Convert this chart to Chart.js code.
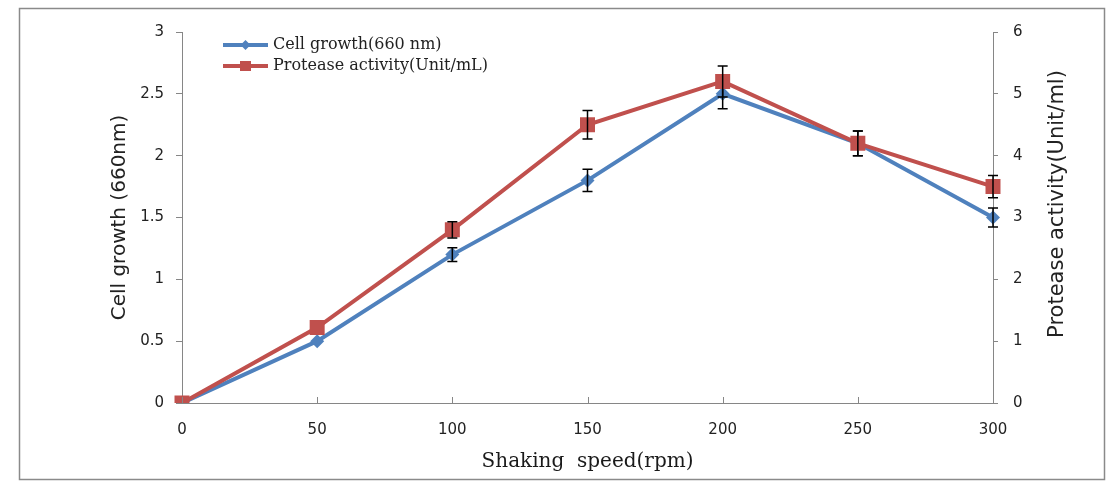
<!DOCTYPE html>
<html><head><meta charset="utf-8">
<script src="https://cdn.jsdelivr.net/npm/chart.js@4.4.0/dist/chart.umd.min.js"></script>
<style>html,body{margin:0;padding:0;background:#fff;} #wrap{position:relative;width:1117px;height:492px;}</style>
</head><body><div id="wrap"><canvas id="c"></canvas></div>
<script>
const speeds = ['0', '50', '100', '150', '200', '250', '300'];
const cellGrowth = [0, 0.5, 1.2, 1.8, 2.5, 2.1, 1.5];
const cellGrowthErr = [0, 0, 0.055, 0.09, 0.12, 0.1, 0.077];
const proteaseActivity = [0, 1.22, 2.8, 4.5, 5.2, 4.2, 3.5];
const proteaseErr = [0, 0, 0.13, 0.23, 0.25, 0.2, 0.18];
const leftTicks = [0, 0.5, 1, 1.5, 2, 2.5, 3];
const rightTicks = [0, 1, 2, 3, 4, 5, 6];
const legendLabels = ['Cell growth(660 nm)', 'Protease activity(Unit/mL)'];
const xTitle = 'Shaking  speed(rpm)';
const yLeftTitle = 'Cell growth (660nm)';
const yRightTitle = 'Protease activity(Unit/ml)';

const BLUE = '#4F81BD', RED = '#C0504D', AXIS = '#868686', TXT = '#222';

const errorBarPlugin = {
  id: 'errbars',
  afterDatasetDraw(chart, args) {
    const ds = chart.data.datasets[args.index];
    if (!ds.errors) return;
    const meta = args.meta;
    const yScale = chart.scales[meta.yAxisID];
    const ctx = chart.ctx;
    ctx.save();
    ctx.strokeStyle = '#000';
    ctx.lineWidth = 1.5;
    meta.data.forEach((pt, i) => {
      const e = ds.errors[i];
      if (!e) return;
      const v = ds.data[i];
      const yT = yScale.getPixelForValue(v + e), yB = yScale.getPixelForValue(v - e);
      const x = pt.x;
      ctx.beginPath();
      ctx.moveTo(x, yT); ctx.lineTo(x, yB);
      ctx.moveTo(x - 5, yT); ctx.lineTo(x + 5, yT);
      ctx.moveTo(x - 5, yB); ctx.lineTo(x + 5, yB);
      ctx.stroke();
    });
    ctx.restore();
  }
};

const decorPlugin = {
  id: 'decor',
  afterDraw(chart) {
    const ctx = chart.ctx;
    const xs = chart.scales.x;
    const area = chart.chartArea;
    ctx.save();
    // outer frame
    ctx.strokeStyle = '#8a8a8a';
    ctx.lineWidth = 1.5;
    ctx.strokeRect(19.5, 8.5, 1085, 471);
    // inward x ticks
    ctx.strokeStyle = AXIS;
    ctx.lineWidth = 1;
    speeds.forEach((s, i) => {
      const x = Math.round(xs.getPixelForValue(i)) + 0.5;
      ctx.beginPath();
      ctx.moveTo(x, area.bottom);
      ctx.lineTo(x, area.bottom - 6);
      ctx.stroke();
    });
    // right axis title (reads bottom to top)
    ctx.fillStyle = TXT;
    ctx.font = '21px "DejaVu Sans"';
    ctx.textAlign = 'center';
    ctx.textBaseline = 'middle';
    ctx.translate(1058, 204);
    ctx.rotate(-Math.PI / 2);
    ctx.fillText(yRightTitle, 0, 0);
    ctx.restore();

    // legend
    ctx.save();
    const items = [
      {label: legendLabels[0], color: BLUE, style: 'diamond', y: 45},
      {label: legendLabels[1], color: RED, style: 'square', y: 66}
    ];
    items.forEach(it => {
      ctx.strokeStyle = it.color;
      ctx.fillStyle = it.color;
      ctx.lineWidth = 4;
      ctx.beginPath();
      ctx.moveTo(223, it.y); ctx.lineTo(268, it.y);
      ctx.stroke();
      const cx = 245.5;
      ctx.beginPath();
      if (it.style === 'diamond') {
        ctx.moveTo(cx, it.y - 5); ctx.lineTo(cx + 5, it.y); ctx.lineTo(cx, it.y + 5); ctx.lineTo(cx - 5, it.y);
        ctx.closePath();
      } else {
        ctx.rect(cx - 5.5, it.y - 5, 11, 10);
      }
      ctx.fill();
      ctx.fillStyle = TXT;
      ctx.font = '16px "DejaVu Serif"';
      ctx.textAlign = 'left';
      ctx.textBaseline = 'middle';
      ctx.fillText(it.label, 273, it.y);
    });
    ctx.restore();
  }
};

Chart.defaults.font.family = '"DejaVu Sans"';
Chart.defaults.color = TXT;

new Chart(document.getElementById('c'), {
  type: 'line',
  data: {
    labels: speeds,
    datasets: [
      {
        label: legendLabels[0],
        data: cellGrowth,
        errors: cellGrowthErr,
        yAxisID: 'y',
        borderColor: BLUE,
        backgroundColor: BLUE,
        borderWidth: 4,
        pointStyle: 'rectRot',
        pointRadius: 7,
        pointBorderWidth: 0,
        pointBackgroundColor: BLUE,
        tension: 0,
        order: 1
      },
      {
        label: legendLabels[1],
        data: proteaseActivity,
        errors: proteaseErr,
        yAxisID: 'y1',
        borderColor: RED,
        backgroundColor: RED,
        borderWidth: 4,
        pointStyle: 'rect',
        pointRadius: 10.6,
        pointBorderWidth: 0,
        pointBackgroundColor: RED,
        tension: 0,
        order: 0
      }
    ]
  },
  options: {
    responsive: true,
    maintainAspectRatio: false,
    animation: false,
    layout: {padding: {left: 108, right: 64, top: 32, bottom: 16}},
    plugins: {legend: {display: false}, tooltip: {enabled: false}},
    scales: {
      x: {
        type: 'category',
        offset: false,
        grid: {display: true, drawOnChartArea: false, drawTicks: false},
        border: {display: true, color: AXIS, width: 1},
        ticks: {font: {size: 15}, padding: 18, color: TXT, maxRotation: 0, autoSkip: false},
        title: {display: true, text: xTitle, font: {family: '"DejaVu Serif"', size: 20}, color: '#1a1a1a', padding: {top: 0, bottom: 2}},
        afterFit: s => { s.height = 73; }
      },
      y: {
        position: 'left',
        min: 0, max: 3,
        afterBuildTicks: s => { s.ticks = leftTicks.map(v => ({value: v})); },
        grid: {display: true, drawOnChartArea: false, drawTicks: true, tickLength: 6, color: AXIS},
        border: {display: true, color: AXIS, width: 1},
        ticks: {font: {size: 15}, padding: 12, color: TXT, callback: v => String(v)},
        title: {display: true, text: yLeftTitle, font: {size: 20}, color: TXT, padding: {top: 0, bottom: 0}},
        afterFit: s => { s.width = 74; }
      },
      y1: {
        position: 'right',
        min: 0, max: 6,
        afterBuildTicks: s => { s.ticks = rightTicks.map(v => ({value: v})); },
        grid: {display: true, drawOnChartArea: false, drawTicks: true, tickLength: 5, color: AXIS},
        border: {display: true, color: AXIS, width: 1},
        ticks: {font: {size: 15}, padding: 15, color: TXT, callback: v => String(v)},
        title: {display: false},
        afterFit: s => { s.width = 60; }
      }
    }
  },
  plugins: [errorBarPlugin, decorPlugin]
});
</script>
</body></html>
